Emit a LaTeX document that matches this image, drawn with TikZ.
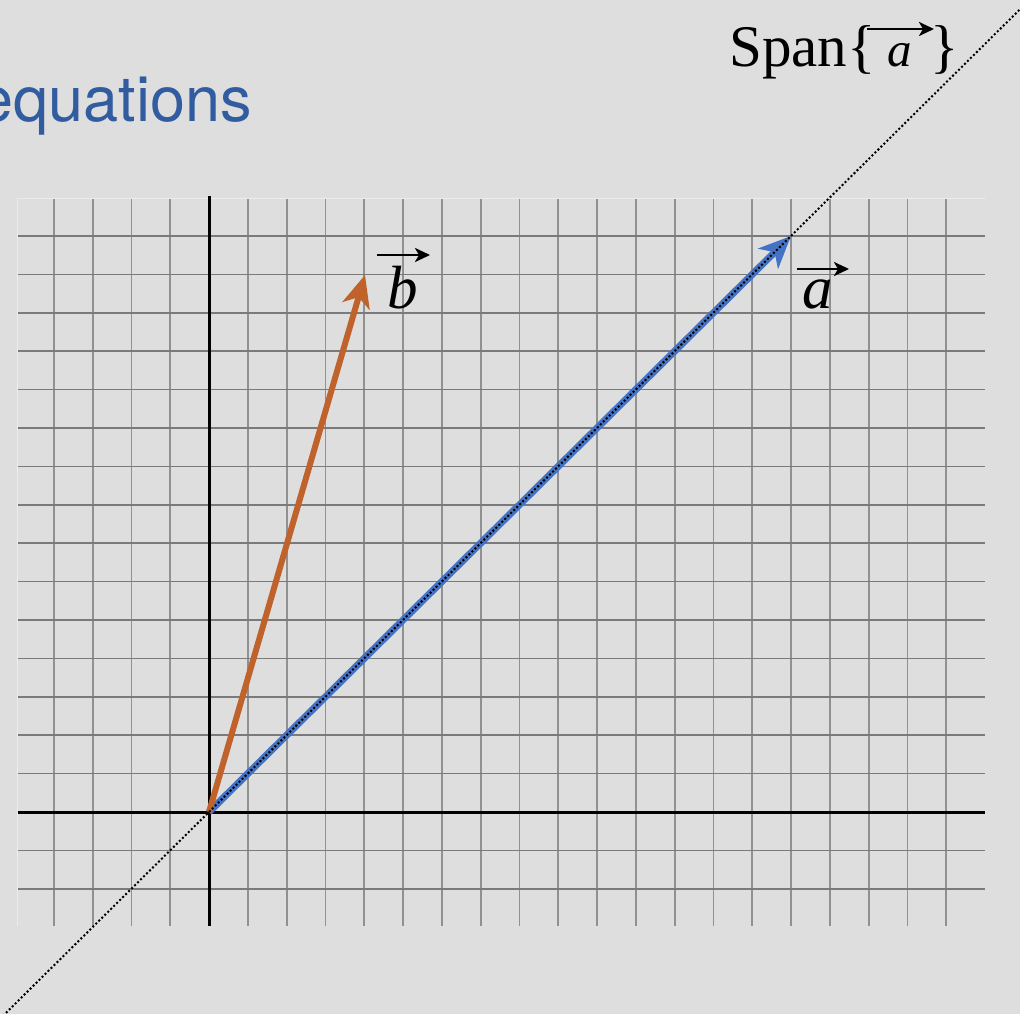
\documentclass[tikz,border=0pt]{standalone}
\usepackage{fontspec}
\setmainfont{Liberation Serif}
\newfontfamily\herosfont{TeX Gyre Heros}
\usetikzlibrary{arrows.meta}
\definecolor{bgc}{RGB}{222,222,222}
\definecolor{gridv}{RGB}{145,145,145}
\definecolor{gridh}{RGB}{122,122,122}
\definecolor{edgec}{RGB}{236,236,236}
\definecolor{eqblue}{RGB}{50,92,160}
\definecolor{vecblue}{RGB}{68,114,196}
\definecolor{vecorange}{RGB}{192,98,43}
\tikzset{
  gridvline/.style={draw=gridv, line width=1.8pt},
  gridhline/.style={draw=gridh, line width=1.5pt},
  edgeline/.style={draw=edgec, line width=1pt},
  axisline/.style={draw=black, line width=3pt},
  vecarrow/.style={line width=#1, -{Stealth[length=32pt, width=28pt, inset=9pt]}},
  overarrow/.style={draw=black, line width=2.8pt, -{Stealth[length=15pt, width=14pt, inset=4pt]}},
  spanline/.style={draw=black, line width=2pt, dash pattern=on 2pt off 2.2pt},
  lbl/.style={inner sep=0pt, anchor=base},
  veclbl/.style={lbl, font=\fontsize{61}{61}\selectfont\itshape}
}
\begin{document}
\begin{tikzpicture}[x=1pt, y=-1pt]
\useasboundingbox (0,0) rectangle (1020,1014);
\fill[bgc] (0,0) rectangle (1020,1014);
% grid
\foreach \i in {-4,-3,-2,-1,1,2,...,19}
  \draw[gridvline] ({209+38.8*\i},198) -- ({209+38.8*\i},926);
\foreach \j in {-2,-1,1,2,...,15}
  \draw[gridhline] (17,{812-38.4*\j}) -- (985,{812-38.4*\j});
\draw[edgeline] (17,926) -- (17,198) -- (985,198);
% axes
\coordinate (O) at (209,812);
\coordinate (xl) at (18,812);
\coordinate (xr) at (985,812);
\coordinate (yb) at (209,926);
\coordinate (yt) at (209,196);
\draw[axisline] (xl) -- (xr);
\draw[axisline] (yb) -- (yt);
% vectors
\coordinate (A) at (791,236);
\coordinate (B) at (365,275);
\draw[vecarrow=7pt, draw=vecblue, fill=vecblue] (O) -- (A);
\draw[vecarrow=6pt, draw=vecorange, fill=vecorange] (O) -- (B);
% span line
\coordinate (S1) at (0,1018.8);
\coordinate (S2) at (1020,9.3);
\draw[spanline] (S1) -- (S2);
% labels
\node[veclbl] (la) at (818,308) {a};
\coordinate (la1) at (797,269);
\coordinate (la2) at (849,269);
\draw[overarrow] (la1) -- (la2);
\node[veclbl] (lb) at (403,308) {b};
\coordinate (lb1) at (377,255);
\coordinate (lb2) at (430,255);
\draw[overarrow] (lb1) -- (lb2);
\node[lbl, anchor=base west] (span) at (729,67) {\fontsize{59}{59}\selectfont Span\{\hspace{12pt}{\fontsize{49}{49}\selectfont\itshape a}\hspace{18pt}\}};
\coordinate (sa1) at (867,29);
\coordinate (sa2) at (934,29);
\draw[overarrow] (sa1) -- (sa2);
\node[lbl, anchor=base east, text=eqblue] (eq) at (252,122) {\herosfont\fontsize{63}{63}\selectfont equations};
\end{tikzpicture}
\end{document}
